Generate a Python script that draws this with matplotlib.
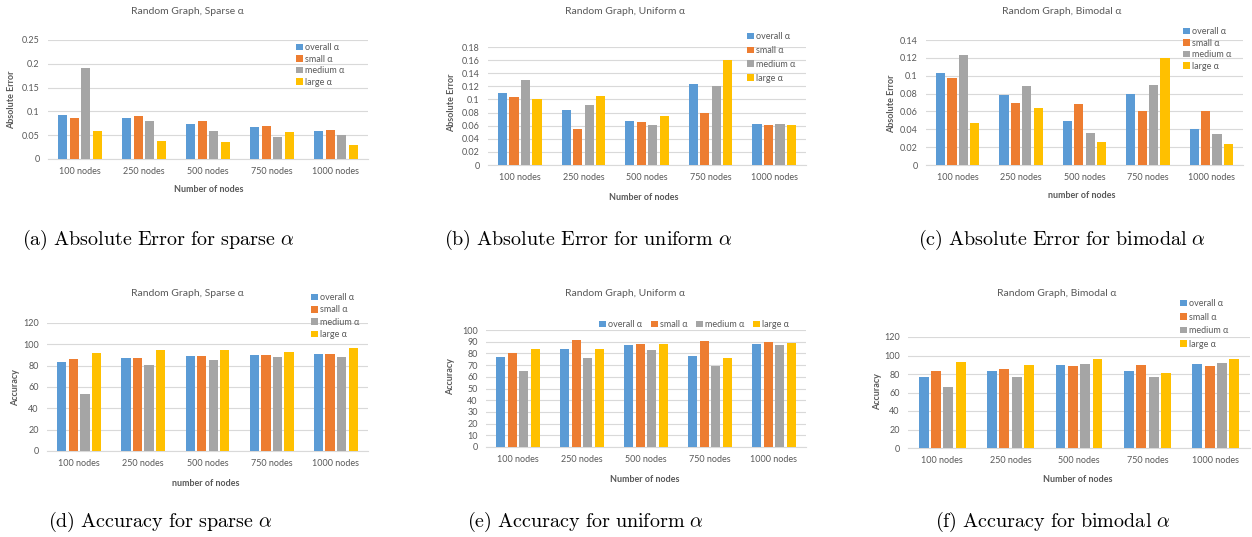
import numpy as np
import matplotlib.pyplot as plt
from matplotlib.ticker import FuncFormatter

plt.rcParams['font.family'] = ['Lato', 'DejaVu Sans']
plt.rcParams['mathtext.fontset'] = 'cm'

nodos = ['100 nodes', '250 nodes', '500 nodes', '750 nodes', '1000 nodes']
series = ['overall α', 'small α', 'medium α', 'large α']

# filas: overall, small, medium, large
ae_sparse = [[0.093, 0.086, 0.074, 0.067, 0.058],
             [0.086, 0.090, 0.079, 0.070, 0.061],
             [0.192, 0.079, 0.058, 0.046, 0.051],
             [0.058, 0.037, 0.036, 0.057, 0.030]]
ae_uniform = [[0.110, 0.084, 0.067, 0.123, 0.062],
              [0.104, 0.055, 0.065, 0.079, 0.061],
              [0.129, 0.091, 0.061, 0.120, 0.063],
              [0.100, 0.105, 0.075, 0.160, 0.061]]
ae_bimodal = [[0.103, 0.078, 0.049, 0.080, 0.040],
              [0.098, 0.069, 0.068, 0.060, 0.061],
              [0.123, 0.089, 0.036, 0.090, 0.035],
              [0.047, 0.064, 0.026, 0.120, 0.024]]
acc_sparse = [[83.9, 87.6, 89.2, 89.8, 90.7],
              [86.3, 87.6, 88.8, 89.8, 90.7],
              [53.0, 80.4, 85.7, 88.5, 88.5],
              [92.0, 94.8, 95.1, 93.2, 96.3]]
acc_uniform = [[77.1, 83.4, 86.9, 78.0, 88.0],
               [80.6, 91.4, 88.3, 90.3, 89.7],
               [64.9, 75.7, 83.1, 69.1, 87.4],
               [83.4, 83.7, 88.0, 75.7, 88.9]]
acc_bimodal = [[76.4, 82.9, 90.1, 82.9, 91.2],
               [83.2, 85.0, 89.0, 90.1, 89.0],
               [65.9, 77.1, 90.5, 76.8, 91.5],
               [93.3, 89.4, 95.9, 80.7, 96.6]]

colores = ['#5B9BD5', '#ED7D31', '#A5A5A5', '#FFC000']
gris = '#595959'
W, H = 1252, 537

fig = plt.figure(figsize=(W / 100, H / 100), dpi=100)


def caja(l, t, r, b):
    return [l / W, 1 - b / H, (r - l) / W, (b - t) / H]


def panel(rect, valores, ymax, paso, ylabel, xlabel, titulo, pt, pyl, pxl, leg):
    ax = fig.add_axes(caja(*rect))
    x = np.arange(len(nodos))
    for i, vals in enumerate(valores):
        ax.bar(x + (i - 1.5) * 0.18, vals, width=0.145, color=colores[i],
               label=series[i], zorder=3)
    ax.set_xlim(-0.5, len(nodos) - 0.5)
    ax.set_ylim(0, ymax)
    ax.set_yticks(np.arange(0, ymax + paso / 2, paso))
    ax.yaxis.set_major_formatter(FuncFormatter(lambda v, p: '%g' % round(v, 4)))
    ax.set_xticks(x)
    ax.set_xticklabels(nodos)
    ax.grid(axis='y', color='#D9D9D9', lw=0.8, zorder=0)
    for s in ['top', 'right', 'left']:
        ax.spines[s].set_visible(False)
    ax.spines['bottom'].set_color('#D9D9D9')
    ax.tick_params(length=0, labelsize=6.5, labelcolor=gris)
    ax.tick_params(axis='x', pad=6)
    ax.tick_params(axis='y', pad=6)
    fig.text(pt[0] / W, 1 - pt[1] / H, titulo, ha='center', va='center',
             fontsize=7.5, color=gris)
    fig.text(pyl[0] / W, 1 - pyl[1] / H, ylabel, ha='center', va='center',
             rotation=90, fontsize=6.5, color=gris, fontweight='bold')
    fig.text(pxl[0] / W, 1 - pxl[1] / H, xlabel, ha='center', va='center',
             fontsize=6.5, color=gris, fontweight='bold')
    ncol, lx, ly, esp = leg
    ax.legend(loc='upper left', bbox_to_anchor=(lx / W, 1 - ly / H),
              bbox_transform=fig.transFigure, frameon=False, ncol=ncol,
              fontsize=6.5, labelcolor=gris, handlelength=0.75,
              handleheight=0.75, handletextpad=0.3, labelspacing=esp,
              columnspacing=0.9, borderaxespad=0, borderpad=0)
    return ax


panel((48, 40, 368, 159), ae_sparse, 0.25, 0.05, 'Absolute Error',
      'Number of nodes', 'Random Graph, Sparse α', (187, 12), (12, 100),
      (209, 189), (1, 296, 43, 0.28))
panel((488, 47, 806, 165), ae_uniform, 0.18, 0.02, 'Absolute Error',
      'Number of nodes', 'Random Graph, Uniform α', (625, 12), (452, 103),
      (644, 198), (1, 747, 32, 0.55))
panel((926, 40, 1243, 165), ae_bimodal, 0.14, 0.02, 'Absolute Error',
      'number of nodes', 'Random Graph, Bimodal α', (1062, 12), (892, 104),
      (1082, 195), (1, 1183, 27, 0.28))
panel((47, 323, 368, 451), acc_sparse, 120, 20, 'Accuracy',
      'number of nodes', 'Random Graph, Sparse α', (187, 293), (16, 388),
      (206, 483), (1, 311, 293, 0.38))
panel((486, 330, 806, 447), acc_uniform, 100, 10, 'Accuracy',
      'Number of nodes', 'Random Graph, Uniform α', (625, 293), (451, 377),
      (645, 480), (4, 599, 320, 0.5))
panel((908, 337, 1250, 448), acc_bimodal, 120, 20, 'Accuracy',
      'Number of nodes', 'Random Graph, Bimodal α', (1057, 293), (878, 392),
      (1078, 480), (1, 1180, 299, 0.5))

captions = [(158, 240, r'$\mathrm{(a)\ Absolute\ Error\ for\ sparse}\ \alpha$'),
            (588, 240, r'$\mathrm{(b)\ Absolute\ Error\ for\ uniform}\ \alpha$'),
            (1062, 240, r'$\mathrm{(c)\ Absolute\ Error\ for\ bimodal}\ \alpha$'),
            (160, 522, r'$\mathrm{(d)\ Accuracy\ for\ sparse}\ \alpha$'),
            (585, 522, r'$\mathrm{(e)\ Accuracy\ for\ uniform}\ \alpha$'),
            (1053, 522, r'$\mathrm{(f)\ Accuracy\ for\ bimodal}\ \alpha$')]
for cx, cy, texto in captions:
    fig.text(cx / W, 1 - cy / H, texto, ha='center', va='center',
             fontsize=14.5)

fig.savefig('out.png', dpi=100)
